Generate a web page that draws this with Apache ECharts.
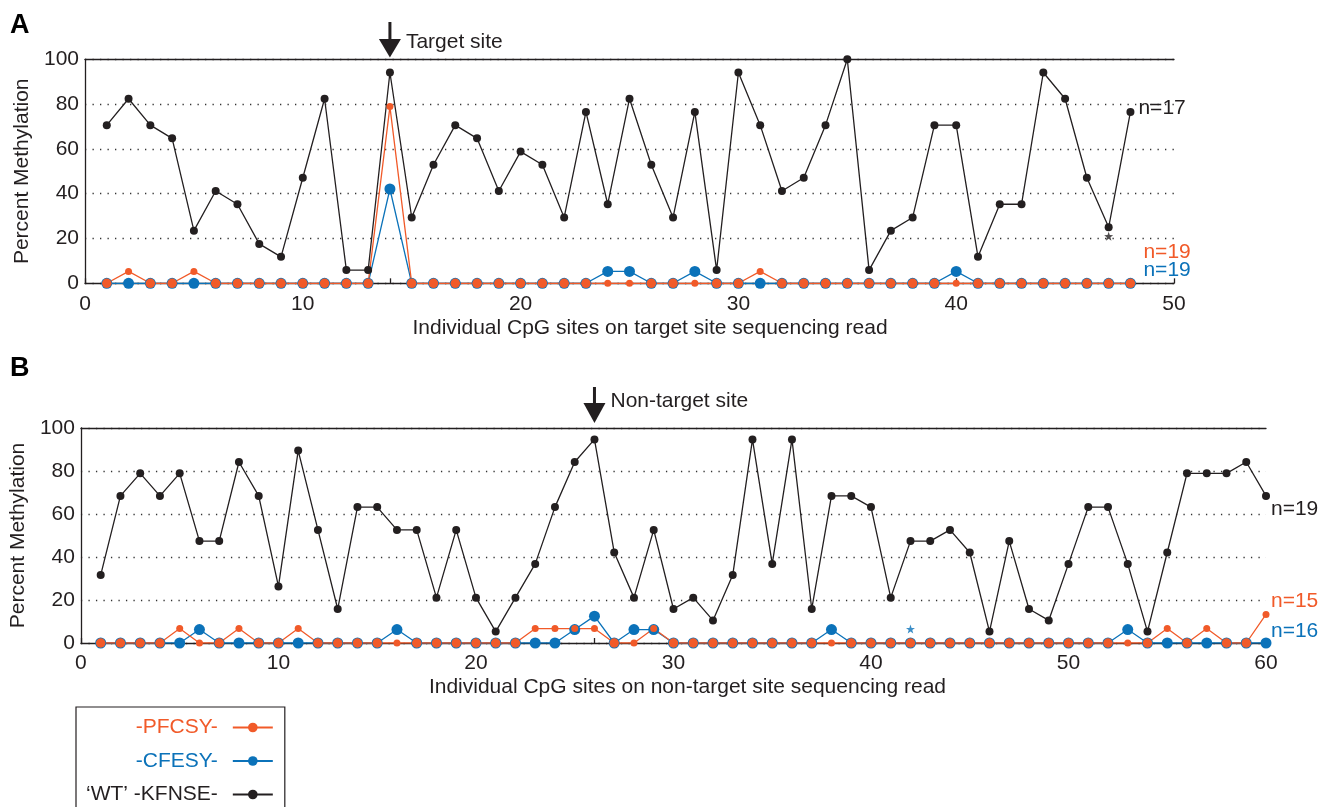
<!DOCTYPE html>
<html><head><meta charset="utf-8">
<script src="https://cdn.jsdelivr.net/npm/echarts@6/dist/echarts.min.js"></script>
<style>html,body{margin:0;padding:0;background:#fff}#c{width:1328px;height:807px}</style>
</head><body><div id="c"></div>
<script>
// ---------- DATA ----------
const nameOrange = '-PFCSY-';
const nameBlue = '-CFESY-';
const nameBlack = '\u2018WT\u2019 -KFNSE-';

// Panel A: target site read (CpG sites 1..48)
const sitesA = [1,2,3,4,5,6,7,8,9,10,11,12,13,14,15,16,17,18,19,20,21,22,23,24,25,26,27,28,29,30,31,32,33,34,35,36,37,38,39,40,41,42,43,44,45,46,47,48];
const blackA = [70.6,82.4,70.6,64.7,23.5,41.2,35.3,17.6,11.8,47.1,82.4,5.9,5.9,94.1,29.4,52.9,70.6,64.7,41.2,58.8,52.9,29.4,76.5,35.3,82.4,52.9,29.4,76.5,5.9,94.1,70.6,41.2,47.1,70.6,100,5.9,23.5,29.4,70.6,70.6,11.8,35.3,35.3,94.1,82.4,47.1,25.0,76.5];
const orangeA = [0,5.3,0,0,5.3,0,0,0,0,0,0,0,0,78.9,0,0,0,0,0,0,0,0,0,0,0,0,0,0,0,0,5.3,0,0,0,0,0,0,0,0,0,0,0,0,0,0,0,0,0];
const blueA = [0,0,0,0,0,0,0,0,0,0,0,0,0,42.1,0,0,0,0,0,0,0,0,0,5.3,5.3,0,0,5.3,0,0,0,0,0,0,0,0,0,0,0,5.3,0,0,0,0,0,0,0,0];
const starA = [[47, 21]];
const targetSiteA = 14;
const nLabelsA = ['n=17', 'n=19', 'n=19'];   // black, orange, blue
const ticksA = [0,10,14,20,30,40,50];

// Panel B: non-target site read (CpG sites 1..60)
const sitesB = [1,2,3,4,5,6,7,8,9,10,11,12,13,14,15,16,17,18,19,20,21,22,23,24,25,26,27,28,29,30,31,32,33,34,35,36,37,38,39,40,41,42,43,44,45,46,47,48,49,50,51,52,53,54,55,56,57,58,59,60];
const blackB = [31.6,68.4,78.9,68.4,78.9,47.4,47.4,84.2,68.4,26.3,
                89.5,52.6,15.8,63.2,63.2,52.6,52.6,21.1,52.6,21.1,
                5.3,21.1,36.8,63.2,84.2,94.7,42.1,21.1,52.6,15.8,
                21.1,10.5,31.6,94.7,36.8,94.7,15.8,68.4,68.4,63.2,
                21.1,47.4,47.4,52.6,42.1,5.3,47.4,15.8,10.5,36.8,
                63.2,63.2,36.8,5.3,42.1,78.9,78.9,78.9,84.2,68.4];
const orangeB = [0,0,0,0,6.7,0,0,6.7,0,0,
                 6.7,0,0,0,0,0,0,0,0,0,
                 0,0,6.7,6.7,6.7,6.7,0,0,6.7,0,
                 0,0,0,0,0,0,0,0,0,0,
                 0,0,0,0,0,0,0,0,0,0,
                 0,0,0,0,6.7,0,6.7,0,0,13.3];
const blueB = [0,0,0,0,0,6.25,0,0,0,0,
               0,0,0,0,0,6.25,0,0,0,0,
               0,0,0,0,6.25,12.5,0,6.25,6.25,0,
               0,0,0,0,0,0,0,6.25,0,0,
               0,0,0,0,0,0,0,0,0,0,
               0,0,6.25,0,0,0,0,0,0,0];
const starB = [[42, 6.5]];
const targetSiteB = 26;
const nLabelsB = ['n=19', 'n=15', 'n=16'];
const ticksB = [0,10,20,26,30,40,50,60];

// ---------- STYLE ----------
const C_BLACK = '#231f20', C_ORANGE = '#f15a29', C_BLUE = '#0b72b9';
const FONT = "'Liberation Sans', Arial, Helvetica, sans-serif";

function pairs(xs, ys){ return xs.map((x,i)=>[x, ys[i]]); }

function orangeSize(blueArr, orangeArr){
  return function(val, params){
    const i = params.dataIndex;
    return (orangeArr[i] === 0 && blueArr[i] === 0) ? 9.5 : 7;
  };
}

function panelSeries(xi, yi, sites, blk, org, blu, star, starColor, labels, offs){
  return [
    { name: nameBlue, type:'line', xAxisIndex:xi, yAxisIndex:yi, data: pairs(sites, blu),
      symbol:'circle', symbolSize: 11, showSymbol:true,
      lineStyle:{color:C_BLUE, width:1.3}, itemStyle:{color:C_BLUE},
      endLabel:{show:true, formatter: labels[2], color:C_BLUE, fontSize:21, fontFamily:FONT, offset:offs[2]} },
    { name: nameOrange, type:'line', xAxisIndex:xi, yAxisIndex:yi, data: pairs(sites, org),
      symbol:'circle', symbolSize: orangeSize(blu, org),
      lineStyle:{color:C_ORANGE, width:1.3}, itemStyle:{color:C_ORANGE},
      endLabel:{show:true, formatter: labels[1], color:C_ORANGE, fontSize:21, fontFamily:FONT, offset:offs[1]} },
    { name: nameBlack, type:'line', xAxisIndex:xi, yAxisIndex:yi, data: pairs(sites, blk),
      symbol:'circle', symbolSize: 8,
      lineStyle:{color:C_BLACK, width:1.3}, itemStyle:{color:C_BLACK},
      endLabel:{show:true, formatter: labels[0], color:C_BLACK, fontSize:21, fontFamily:FONT, offset:offs[0]} },
    { type:'scatter', xAxisIndex:xi, yAxisIndex:yi, data: star, symbol:'path://M0,-10 L2.35,-3.24 L9.51,-3.09 L3.8,1.24 L5.88,8.09 L0,4 L-5.88,8.09 L-3.8,1.24 L-9.51,-3.09 L-2.35,-3.24 Z',
      symbolSize: 9, itemStyle:{color:starColor}, silent:true }
  ];
}

function xAxisMain(grid, max, ticks, name, pad){
  return {
    gridIndex: grid, type:'value', min:0, max:max, interval:10,
    axisLine:{show:true, onZero:false, lineStyle:{color:C_BLACK, width:1.3}},
    axisTick:{show:true, inside:true, length:5, customValues: ticks, lineStyle:{color:C_BLACK, width:1.3}},
    axisLabel:{fontSize:21, color:C_BLACK, margin:10, fontFamily:FONT},
    splitLine:{show:false},
    name: name, nameLocation:'middle', nameGap:34,
    nameTextStyle:{fontSize:21, color:C_BLACK, fontFamily:FONT, padding:pad}
  };
}
function xAxisTop(grid, max){
  return {
    gridIndex: grid, type:'value', min:0, max:max, position:'top',
    axisLine:{show:true, onZero:false, lineStyle:{color:C_BLACK, width:1.3}},
    axisTick:{show:false}, axisLabel:{show:false}, splitLine:{show:false}
  };
}
function yAxisMain(grid, gap){
  return {
    gridIndex: grid, type:'value', min:0, max:100, interval:20,
    axisLine:{show:true, onZero:false, lineStyle:{color:C_BLACK, width:1.3}},
    axisTick:{show:false},
    axisLabel:{fontSize:21, color:C_BLACK, margin:6, fontFamily:FONT},
    splitLine:{show:true, lineStyle:{color:'#333', width:1.3, type:[1.3,6.2]}},
    name:'Percent Methylation', nameLocation:'middle', nameGap:gap,
    nameTextStyle:{fontSize:21, color:C_BLACK, fontFamily:FONT}
  };
}

const chart = echarts.init(document.getElementById('c'), null, {renderer:'canvas'});
chart.setOption({
  animation:false,
  backgroundColor:'#fff',
  textStyle:{fontFamily:FONT},
  grid:[
    {left:85, top:59.3, width:1089, height:224},
    {left:78, top:428, width:1188, height:215}
  ],
  xAxis:[
    xAxisMain(0, 50, ticksA, 'Individual CpG sites on target site sequencing read', [0,0,0,41]),
    xAxisTop(0, 50),
    xAxisMain(1, 60, ticksB, 'Individual CpG sites on non-target site sequencing read', [0,0,0,28]),
    xAxisTop(1, 60)
  ],
  yAxis:[ yAxisMain(0, 50), yAxisMain(1, 43) ],
  legend:{
    orient:'vertical', left:76, top:707, height:300, align:'right',
    itemWidth:40, itemHeight:12, itemGap:12.5,
    padding:[10, 11, 40, 10],
    borderColor:C_BLACK, borderWidth:1.2, selectedMode:false,
    textStyle:{fontSize:21, lineHeight:21, fontFamily:FONT, padding:[0,10,0,0]},
    data:[
      {name:nameOrange, textStyle:{color:C_ORANGE}},
      {name:nameBlue, textStyle:{color:C_BLUE}},
      {name:nameBlack, textStyle:{color:C_BLACK}}
    ]
  },
  series: [].concat(
    panelSeries(0, 0, sitesA, blackA, orangeA, blueA, starA, C_BLACK, nLabelsA, [[0,-4],[5,-31],[5,-13]]),
    panelSeries(2, 1, sitesB, blackB, orangeB, blueB, starB, C_BLUE, nLabelsB, [[-3,13],[-3,-13],[-3,-12]])
  )
});

// Annotations: panel letters and target-site arrows
const xa = chart.convertToPixel({xAxisIndex:0}, targetSiteA);
const xb = chart.convertToPixel({xAxisIndex:2}, targetSiteB);
function arrow(x, top, headTop, tip){
  return [
    {type:'rect', shape:{x:x-1.5, y:top, width:3, height:headTop-top+1}, style:{fill:C_BLACK}},
    {type:'polygon', shape:{points:[[x-11,headTop],[x+11,headTop],[x,tip]]}, style:{fill:C_BLACK}}
  ];
}
chart.setOption({
  graphic: [].concat(
    [{type:'text', left:10, top:12, style:{text:'A', font:"bold 27px 'Liberation Sans', Arial, sans-serif", fill:'#000'}},
     {type:'text', left:10, top:355, style:{text:'B', font:"bold 27px 'Liberation Sans', Arial, sans-serif", fill:'#000'}}],
    arrow(xa, 22, 39, 57.5),
    [{type:'text', x:xa+16, y:42, style:{text:'Target site', font:"21px 'Liberation Sans', Arial, sans-serif", fill:C_BLACK, verticalAlign:'middle'}}],
    arrow(xb, 387, 403, 423),
    [{type:'text', x:xb+16, y:401, style:{text:'Non-target site', font:"21px 'Liberation Sans', Arial, sans-serif", fill:C_BLACK, verticalAlign:'middle'}}]
  )
});
</script>
</body></html>
